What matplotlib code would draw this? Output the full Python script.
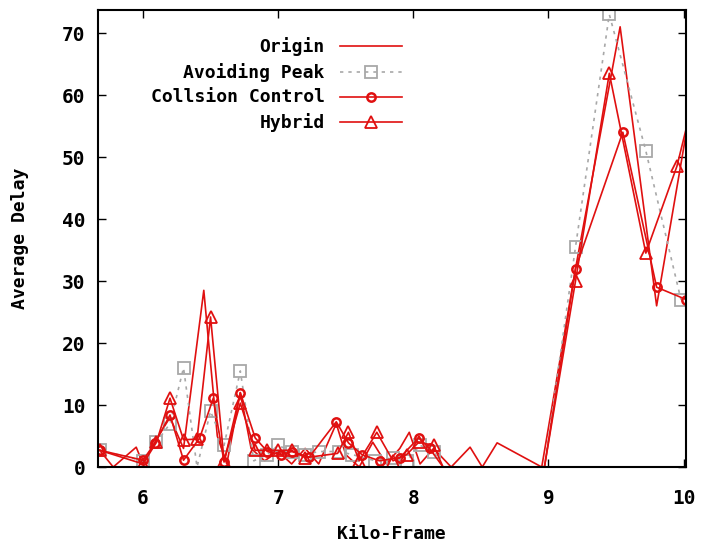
import numpy as np
import matplotlib; matplotlib.use("Agg")
import matplotlib.pyplot as plt

# ---- data (x = kilo-frame, y = average delay) ----
origin_x = [5.68, 5.78, 5.95, 6.0, 6.1, 6.2, 6.3, 6.45, 6.55, 6.62, 6.72, 6.8, 6.9, 7.0,
            7.1, 7.2, 7.3, 7.43, 7.5, 7.6, 7.7, 7.8, 7.9, 7.97, 8.05, 8.15, 8.28, 8.42,
            8.51, 8.62, 8.95, 9.2, 9.53, 9.8, 10.02]
origin_y = [2.7, 0, 3.2, 0.5, 4.5, 8, 3, 28.5, 5, 0.5, 12, 3, 1, 2.5,
            0.5, 3, 0.5, 7, 2, 0, 4, 0.5, 3, 5.6, 0.5, 3, 0, 3.2,
            0, 3.9, 0, 32, 71, 26, 54]

avoid_x = [5.68, 6.0, 6.1, 6.2, 6.3, 6.4, 6.5, 6.6, 6.72, 6.82, 6.92, 7.0, 7.1, 7.2,
           7.3, 7.45, 7.55, 7.72, 7.85, 7.95, 8.05, 8.15, 8.22, 8.97, 9.2, 9.45, 9.72, 9.98]
avoid_y = [2.7, 1, 4, 7, 16, 0, 9, 3.5, 15.5, 1, 2, 3.5, 2.5, 2,
           2.5, 2.5, 2, 1, 1.5, 1, 3.5, 2.5, 0, 0, 35.5, 73, 51, 27]

coll_x = [5.68, 6.0, 6.09, 6.2, 6.3, 6.42, 6.52, 6.6, 6.72, 6.83, 6.92, 7.02, 7.1, 7.23,
          7.43, 7.52, 7.62, 7.75, 7.9, 8.04, 8.12, 8.22, 8.97, 9.2, 9.55, 9.8, 10.02]
coll_y = [2.7, 1.1, 3.9, 8.4, 1.1, 4.7, 11.1, 0.8, 12, 4.7, 2.5, 2, 2.5, 1.6,
          7.3, 3.9, 2, 1, 1.5, 4.7, 3, 0, 0, 32, 54, 29, 27]

hyb_x = [5.68, 6.0, 6.1, 6.2, 6.3, 6.4, 6.5, 6.6, 6.72, 6.83, 6.92, 7.0, 7.1, 7.2,
         7.44, 7.52, 7.6, 7.73, 7.85, 7.95, 8.04, 8.15, 8.22, 8.97, 9.2, 9.45, 9.72, 9.95, 10.08]
hyb_y = [2.7, 0.5, 4, 11.1, 4.4, 4.5, 24.2, 1, 10.3, 2.7, 2.7, 2.7, 2.7, 1.5,
         2.2, 5.6, 1, 5.6, 1, 2, 4, 3.5, 0, 0, 30, 63.5, 34.5, 48.5, 60]

labels = ["Origin", "Avoiding Peak", "Collsion Control", "Hybrid"]

RED, GRAY = "#e01010", "#a8a8a8"
FONT = dict(family="DejaVu Sans Mono", weight="bold")
plt.rcParams.update({"font.family": "DejaVu Sans Mono", "font.weight": "bold"})

fig = plt.figure(figsize=(7.15, 5.44), dpi=100)
ax = fig.add_axes([0.137, 0.1415, 0.822, 0.840])


def skip_zero_marks(ys):
    # no marker on the filler zeros between 8.2 and 9.0
    return [i for i, v in enumerate(ys) if v != 0]


ax.plot(origin_x, origin_y, color=RED, lw=1.2)
ax.plot(avoid_x, avoid_y, color=GRAY, lw=1.2, ls=(0, (2, 3)), marker="s", ms=8,
        mfc="none", mec=GRAY, mew=1.3, markevery=skip_zero_marks(avoid_y))
ax.plot(coll_x, coll_y, color=RED, lw=1.2, marker="o", ms=6, mfc="none", mec=RED,
        mew=1.8, markevery=skip_zero_marks(coll_y))
ax.plot(hyb_x, hyb_y, color=RED, lw=1.2, marker="^", ms=9, mfc="none", mec=RED,
        mew=1.3, markevery=skip_zero_marks(hyb_y))

ax.set_xlim(5.667, 10.015)
ax.set_ylim(0, 73.7)
ax.set_xticks([6, 7, 8, 9, 10])
ax.set_yticks(range(0, 71, 10))
ax.tick_params(direction="in", length=6, width=1, top=True, right=True, labelsize=14)
ax.tick_params(axis="x", pad=16)
ax.tick_params(axis="y", pad=9)
for s in ax.spines.values():
    s.set_linewidth(1.5)
ax.set_xlabel("Kilo-Frame", fontsize=13, labelpad=12, **FONT)
ax.set_ylabel("Average Delay", fontsize=13, labelpad=24, **FONT)

# gnuplot-style key: right-aligned labels, sample to the right
rows = [0.921, 0.864, 0.810, 0.755]
styles = [dict(color=RED, lw=1.2),
          dict(color=GRAY, lw=1.2, ls=(0, (2, 3)), marker="s", ms=8, mfc="none", mec=GRAY, mew=1.3, markevery=[1]),
          dict(color=RED, lw=1.2, marker="o", ms=6, mfc="none", mec=RED, mew=1.8, markevery=[1]),
          dict(color=RED, lw=1.2, marker="^", ms=9, mfc="none", mec=RED, mew=1.3, markevery=[1])]
for lab, yy, st in zip(labels, rows, styles):
    ax.text(0.386, yy, lab, transform=ax.transAxes, ha="right", va="center", fontsize=13, **FONT)
    ax.plot([0.412, 0.464, 0.517], [yy, yy, yy], transform=ax.transAxes, clip_on=False, **st)

fig.savefig("out.png", dpi=100)
